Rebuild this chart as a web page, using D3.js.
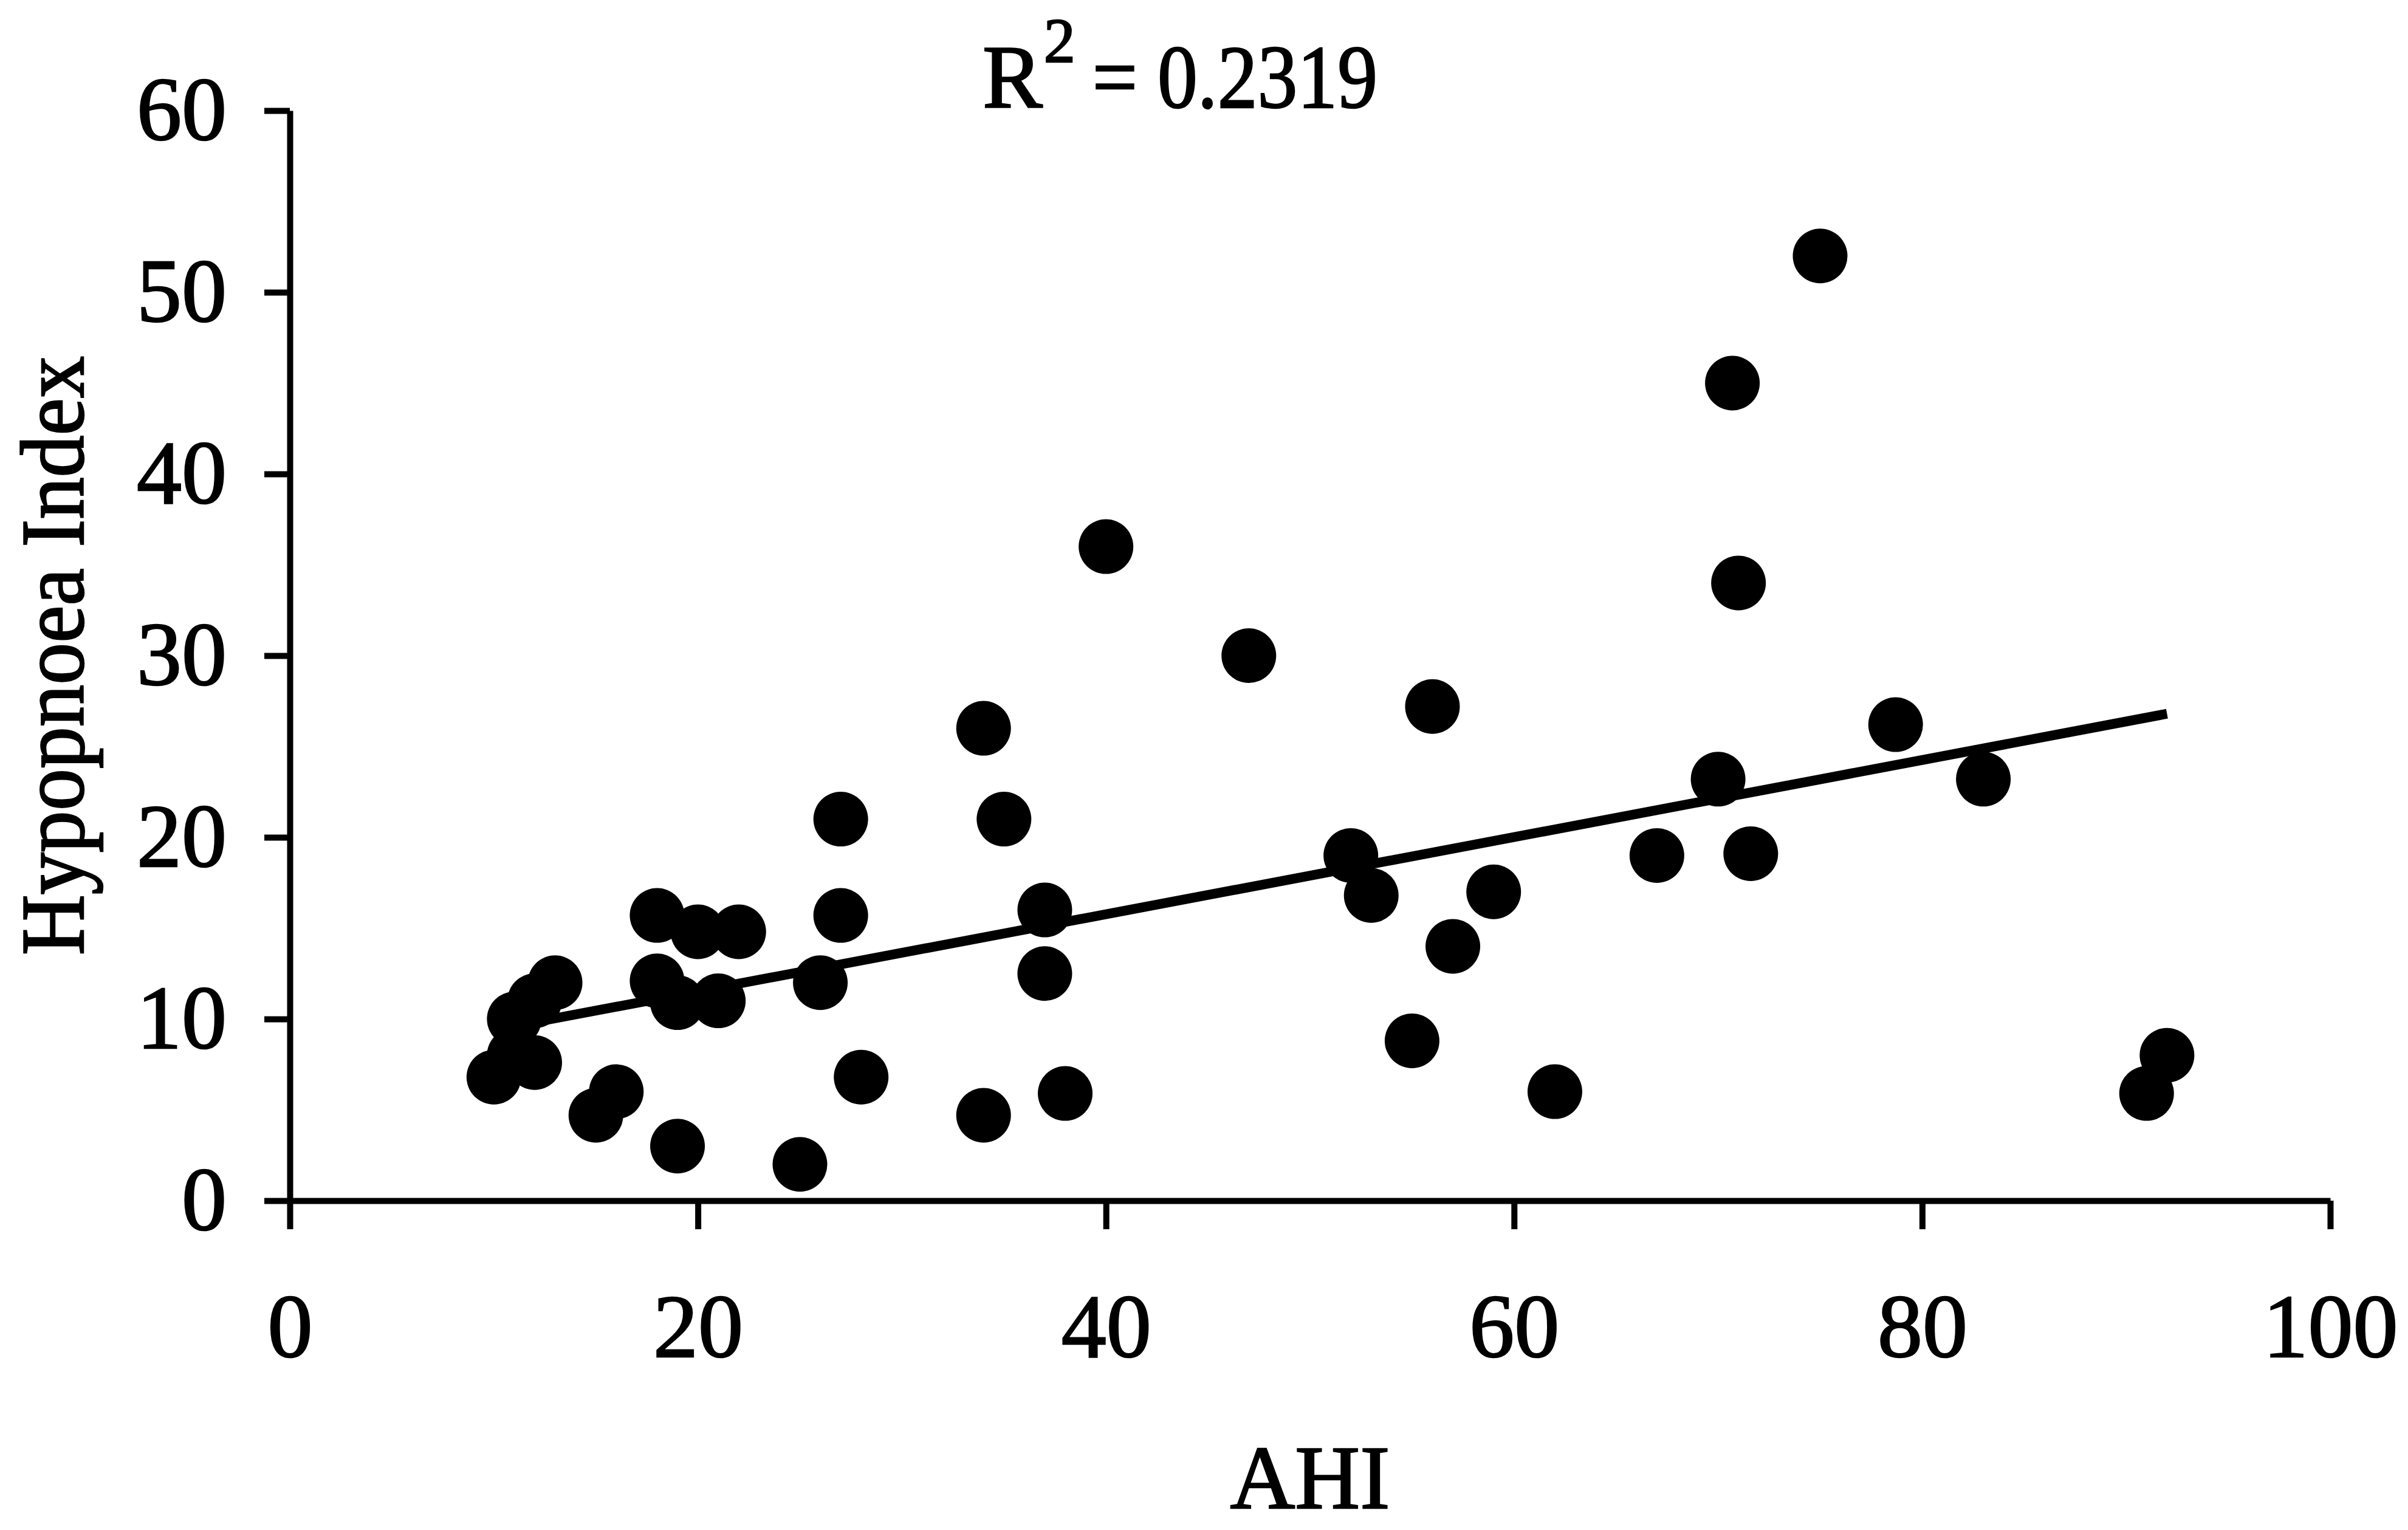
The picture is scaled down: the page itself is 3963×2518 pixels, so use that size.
<!DOCTYPE html>
<html>
<head>
<meta charset="utf-8">
<script src="https://cdn.jsdelivr.net/npm/d3@7"></script>
<style>
  body { margin: 0; background: #ffffff; }
  svg { display: block; }
</style>
</head>
<body>
<svg id="chart" width="3963" height="2518"></svg>
<script>
// Apnoea-hypopnoea index (AHI) against hypopnoea index, one entry per subject
const ahi = [10, 11, 11, 12, 12, 13, 15, 16, 18, 18, 19, 19, 20, 21, 22, 25, 26, 27, 27, 28,
             34, 34, 35, 37, 37, 38, 40, 47, 52, 53, 55, 56, 57, 59, 62, 67, 70, 70.7, 71, 71.6,
             75, 78.7, 83, 91, 92];
const hypopnoea = [6.8, 10.0, 8.0, 7.6, 11.0, 12.0, 4.7, 6.0, 15.7, 12.1, 10.9, 3.0, 14.8, 11.0, 14.8, 2.0, 12.0, 21.0, 15.7, 6.8,
                   26.0, 4.7, 21.0, 16.0, 12.5, 5.9, 36.0, 30.0, 19.0, 16.8, 8.8, 27.2, 14.0, 17.0, 6.0, 19.0, 23.2, 45.0, 34.0, 19.1,
                   52.0, 26.2, 23.2, 5.9, 8.0];

// Linear trend line end points
const trendAhi = [10, 92];
const trendHypopnoea = [9.4, 26.8];
const rSquared = "0.2319";

const xTicks = [0, 20, 40, 60, 80, 100];
const yTicks = [0, 10, 20, 30, 40, 50, 60];

const xLabel = "AHI";
const yLabel = "Hypopnoea Index";

const FONT = "'Liberation Serif', 'Times New Roman', Times, serif";
const FONT_SIZE = 148;
const TEXT_STROKE = 2.5;

const svg = d3.select("#chart");

const x = d3.scaleLinear().domain([0, 100]).range([477, 3835]);
const y = d3.scaleLinear().domain([0, 60]).range([1976, 182]);

function heavyText(sel) {
  sel.attr("fill", "#000").attr("stroke", "#000").attr("stroke-width", TEXT_STROKE)
    .attr("font-family", FONT);
}

function styleAxis(g) {
  g.attr("font-family", FONT).attr("font-size", FONT_SIZE);
  g.selectAll("path.domain").attr("stroke", "#000").attr("stroke-width", 10);
  g.selectAll(".tick line").attr("stroke", "#000").attr("stroke-width", 10);
  g.selectAll(".tick text").call(heavyText);
}

// Y axis
svg.append("g")
  .attr("transform", `translate(${x(0)},0)`)
  .call(d3.axisLeft(y).tickValues(yTicks).tickFormat(d3.format("d"))
    .tickSize(42).tickSizeOuter(0).tickPadding(62))
  .call(styleAxis);

// X axis
svg.append("g")
  .attr("transform", `translate(0,${y(0)})`)
  .call(d3.axisBottom(x).tickValues(xTicks).tickFormat(d3.format("d"))
    .tickSize(47).tickSizeOuter(0).tickPadding(105))
  .call(styleAxis);

// Trend line
const trend = trendAhi.map((v, i) => [v, trendHypopnoea[i]]);
svg.append("path")
  .datum(trend)
  .attr("fill", "none")
  .attr("stroke", "#000")
  .attr("stroke-width", 16)
  .attr("d", d3.line().x(d => x(d[0])).y(d => y(d[1])));

// Data points
svg.append("g")
  .selectAll("circle")
  .data(ahi.map((v, i) => ({ ahi: v, hyp: hypopnoea[i] })))
  .join("circle")
  .attr("cx", d => x(d.ahi))
  .attr("cy", d => y(d.hyp))
  .attr("r", 45)
  .attr("fill", "#000");

// R squared annotation: "R", raised "2", then the value
const titleX = 1617, titleY = 177, titleEnd = 2267;
const rText = svg.append("text")
  .attr("x", titleX).attr("y", titleY)
  .attr("font-size", FONT_SIZE)
  .call(heavyText)
  .text("R");
const rWidth = rText.node().getComputedTextLength();
const supText = svg.append("text")
  .attr("x", titleX + rWidth + 2).attr("y", titleY - 75)
  .attr("font-size", 104)
  .call(heavyText)
  .text("2");
const supWidth = supText.node().getComputedTextLength();
const valueStart = titleX + rWidth + supWidth + 30;
svg.append("text")
  .attr("x", valueStart).attr("y", titleY)
  .attr("font-size", FONT_SIZE)
  .attr("textLength", titleEnd - valueStart)
  .attr("lengthAdjust", "spacingAndGlyphs")
  .call(heavyText)
  .text("= " + rSquared);

// Axis titles
svg.append("text")
  .attr("x", (x(0) + x(100)) / 2)
  .attr("y", 2482)
  .attr("text-anchor", "middle")
  .attr("font-size", FONT_SIZE)
  .call(heavyText)
  .text(xLabel);

svg.append("text")
  .attr("transform", `translate(137,${(y(0) + y(60)) / 2}) rotate(-90)`)
  .attr("text-anchor", "middle")
  .attr("font-size", FONT_SIZE)
  .attr("textLength", 986)
  .attr("lengthAdjust", "spacingAndGlyphs")
  .call(heavyText)
  .text(yLabel);
</script>
</body>
</html>
